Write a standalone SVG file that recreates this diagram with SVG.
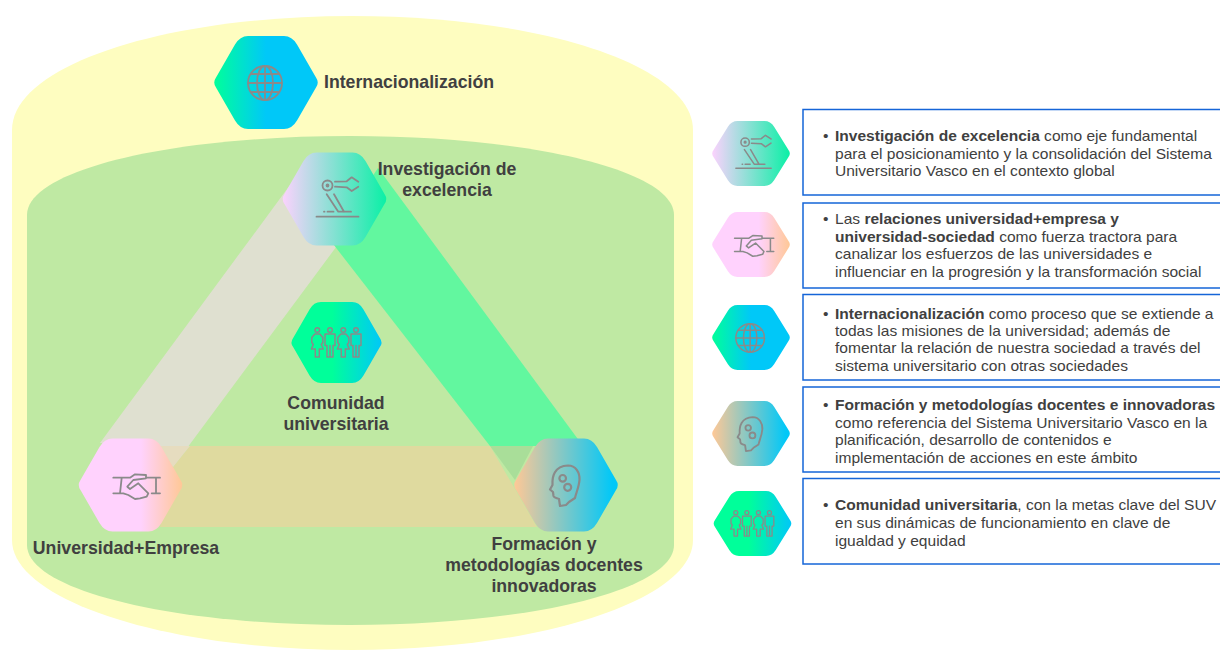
<svg xmlns="http://www.w3.org/2000/svg" width="1220" height="650" viewBox="0 0 1220 650">
<style>
text{font-family:"Liberation Sans",Arial,sans-serif;fill:#404040}
.lab{font-size:17.7px;font-weight:700;text-anchor:middle}
.d{font-size:15.55px}
.d tspan.b{font-weight:700}
.box{fill:#fff;stroke:#1565d8;stroke-width:1.5}
.ic{fill:none;stroke:#8a8a8a;stroke-width:1.8;stroke-linejoin:round;stroke-linecap:round}
</style>
<defs>
<linearGradient id="gGlobe"><stop offset="0" stop-color="#00ff9a"/><stop offset=".5" stop-color="#00c8f8"/></linearGradient>
<linearGradient id="gRobot"><stop offset="0" stop-color="#fbd2fd"/><stop offset="1" stop-color="#0af0a6"/></linearGradient>
<linearGradient id="gHand"><stop offset=".6" stop-color="#ffd2fd"/><stop offset="1" stop-color="#ffc896"/></linearGradient>
<linearGradient id="gHead"><stop offset="0" stop-color="#ffc896"/><stop offset=".95" stop-color="#00c8f8"/></linearGradient>
<linearGradient id="gPeople"><stop offset=".45" stop-color="#00ff9a"/><stop offset="1" stop-color="#00c8f8"/></linearGradient>
<path id="hex" d="M-18,-46.5H18Q26,-46.5 31,-38L50,-5Q53.5,0 50,5L31,38Q26,46.5 18,46.5H-18Q-26,46.5 -31,38L-50,5Q-53.5,0 -50,-5L-31,-38Q-26,-46.5 -18,-46.5Z"/>
<g id="iGlobe" class="ic"><circle cx="-1" cy="0.5" r="17"/><ellipse cx="-1" cy="0.5" rx="8" ry="17"/><path d="M-1,-16.5V17.5M-18,0.5H16M-15,-8.5H13M-15,9.5H13"/></g>
<g id="iRobot" class="ic"><circle cx="-7" cy="-13.5" r="5"/><circle cx="-7" cy="-13.5" r="1"/><path d="M-18,17.7H24M0.5,-17.3L12.2,-17.7L17.2,-21.7L23.8,-17.3M0.5,-12.3L12.2,-11.7L17.2,-8L23.8,-12.3M-7.8,-4.7L3.8,12.7H16.5M-0.5,-4.7L9.5,12.7M-7,12.7H-1M-10.5,12.7H-10"/></g>
<g id="iHand" class="ic"><path d="M-17.2,-7.3H-0.5L4.5,-10.7L15.5,-10V-6.7L2.8,-5L-3.2,1.7L-0.5,4L7.8,-1.7L17.8,8.3L16.2,11.7L9.5,13.3L4.5,14L-2.2,10L-7.2,8.3H-17.2M-8.8,-7.3L-10.5,8.3M15.5,-7.3H29.5M25.5,-7.3V8.3M21.2,8.3H29.5"/></g>
<g id="iHead" class="ic" style="stroke-width:2.2"><path d="M-6,21L-7,14C-9,13 -12,13 -12.5,11L-13,7L-16,4.5L-13.5,0C-14,-8 -12,-19 2,-19.5C10,-19.5 14,-12 13.5,-5C13,2 10,8 9,13L3,17L0,20Z"/><circle cx="-3.3" cy="-6.7" r="3.3"/><circle cx="1.7" cy="2.3" r="3.5"/></g>
<g id="woman"><circle cx="0" cy="-12.5" r="2.3"/><path d="M-2.5,-8.5H2.5L5.5,-5V0L4,2L6,6.5H2V14.5H-2V6.5H-6L-4,2L-5.5,0V-5Z"/></g>
<g id="man"><circle cx="0" cy="-12.5" r="2.3"/><path d="M-5,-8.5H5V3H3V14.5H-3V3H-5ZM0,3V14.5"/></g>
<g id="iPeople" class="ic" style="stroke-width:1.5"><use href="#woman" x="-19.2"/><use href="#man" x="-6.5"/><use href="#woman" x="6.8"/><use href="#man" x="19.5"/></g>
</defs>

<g id="cylinders">
<path fill="#fefdc0" d="M12,130C12,65 165,16 352,16C540,16 693,65 693,130V540C693,600 540,650 352,650C165,650 12,600 12,540Z"/>
<path fill="#bfe9a3" d="M27,215C27,170 170,136 350,136C530,136 674,170 674,215V545C674,590 530,625 350,625C170,625 27,590 27,545Z"/>
</g>

<g id="connectors">
<polygon fill="#dfe0d0" points="290,185 100,443 160,446 173,467 345,235"/>
<polygon fill="#62f79f" points="378,168 583,446 490,446 330,240"/>
<polygon fill="#dfda9f" points="173,467 160,527 537,527 490,446 190,446"/>
<polygon fill="#a9de99" points="490,446 533,446 515,480"/>
<polygon fill="#e6dcbf" points="160,446 190,446 173,467"/>
</g>

<g id="node-internacionalizacion"><use href="#hex" fill="url(#gGlobe)" transform="translate(266,82.5)"/><use href="#iGlobe" transform="translate(266,82.5)"/><text class="lab" x="324" y="88" style="text-anchor:start">Internacionalización</text></g>
<g id="node-investigacion"><use href="#hex" fill="url(#gRobot)" transform="translate(334.5,199)"/><use href="#iRobot" transform="translate(334.5,199)"/><text class="lab" x="447" y="175">Investigación de</text><text class="lab" x="447" y="196">excelencia</text></g>
<g id="node-comunidad"><use href="#hex" fill="url(#gPeople)" transform="translate(336.5,342.5) scale(.87)"/><use href="#iPeople" transform="translate(336.5,342.5)"/><text class="lab" x="336" y="409">Comunidad</text><text class="lab" x="336" y="430">universitaria</text></g>
<g id="node-universidad"><use href="#hex" fill="url(#gHand)" transform="translate(130.5,485)"/><use href="#iHand" transform="translate(130.5,485)"/><text class="lab" x="126" y="554">Universidad+Empresa</text></g>
<g id="node-formacion"><use href="#hex" fill="url(#gHead)" transform="translate(566,485)"/><use href="#iHead" transform="translate(566,485)"/><text class="lab" x="544" y="550">Formación y</text><text class="lab" x="544" y="571">metodologías docentes</text><text class="lab" x="544" y="592">innovadoras</text></g>

<g id="row-1"><use href="#hex" fill="url(#gRobot)" transform="translate(751,153.5) scale(.75,.7)"/><use href="#iRobot" transform="translate(751,153.5) scale(.84)"/><rect class="box" x="803" y="109.5" width="430" height="85.5"/>
<text class="d"><tspan x="823" y="141">•</tspan><tspan x="835" y="141" class="b">Investigación de excelencia</tspan><tspan> como eje fundamental</tspan><tspan x="835" y="159">para el posicionamiento y la consolidación del Sistema</tspan><tspan x="835" y="176">Universitario Vasco en el contexto global</tspan></text></g>
<g id="row-2"><use href="#hex" fill="url(#gHand)" transform="translate(751,244.5) scale(.75,.7)"/><use href="#iHand" transform="translate(749,244.5) scale(.84)"/><rect class="box" x="803" y="203" width="430" height="85"/>
<text class="d"><tspan x="823" y="224">•</tspan><tspan x="835" y="224">Las </tspan><tspan class="b">relaciones universidad+empresa y</tspan><tspan x="835" y="242" class="b">universidad-sociedad</tspan><tspan> como fuerza tractora para</tspan><tspan x="835" y="259">canalizar los esfuerzos de las universidades e</tspan><tspan x="835" y="277">influenciar en la progresión y la transformación social</tspan></text></g>
<g id="row-3"><use href="#hex" fill="url(#gGlobe)" transform="translate(751,337.5) scale(.75,.7)"/><use href="#iGlobe" transform="translate(751,337.5) scale(.84)"/><rect class="box" x="803" y="294.5" width="430" height="85.5"/>
<text class="d"><tspan x="823" y="319">•</tspan><tspan x="835" y="319" class="b">Internacionalización</tspan><tspan> como proceso que se extiende a</tspan><tspan x="835" y="336">todas las misiones de la universidad; además de</tspan><tspan x="835" y="353">fomentar la relación de nuestra sociedad a través del</tspan><tspan x="835" y="371">sistema universitario con otras sociedades</tspan></text></g>
<g id="row-4"><use href="#hex" fill="url(#gHead)" transform="translate(751,433.5) scale(.75,.7)"/><use href="#iHead" transform="translate(751,433.5) scale(.84)"/><rect class="box" x="803" y="387" width="430" height="85"/>
<text class="d"><tspan x="823" y="410">•</tspan><tspan x="835" y="410" class="b">Formación y metodologías docentes e innovadoras</tspan><tspan x="835" y="428">como referencia del Sistema Universitario Vasco en la</tspan><tspan x="835" y="445">planificación, desarrollo de contenidos e</tspan><tspan x="835" y="463">implementación de acciones en este ámbito</tspan></text></g>
<g id="row-5"><use href="#hex" fill="url(#gPeople)" transform="translate(752.5,523.5) scale(.75,.7)"/><use href="#iPeople" transform="translate(752.5,523.5) scale(.87)"/><rect class="box" x="803" y="478.5" width="430" height="85.5"/>
<text class="d"><tspan x="823" y="510">•</tspan><tspan x="835" y="510" class="b">Comunidad universitaria</tspan><tspan>, con la metas clave del SUV</tspan><tspan x="835" y="528">en sus dinámicas de funcionamiento en clave de</tspan><tspan x="835" y="546">igualdad y equidad</tspan></text></g>
</svg>
